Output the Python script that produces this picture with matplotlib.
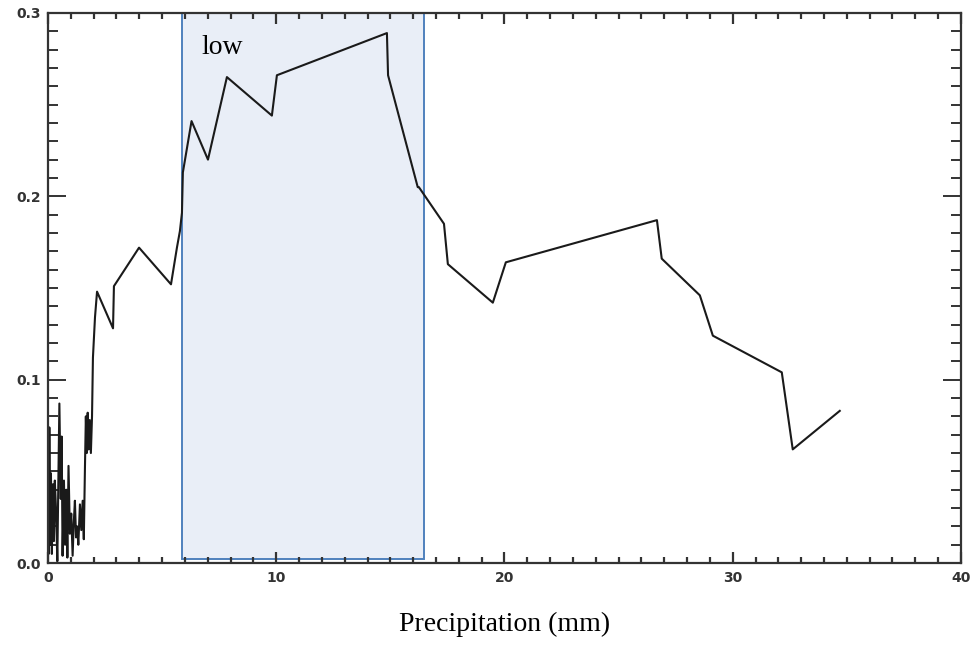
import matplotlib
matplotlib.use("Agg")
import matplotlib.pyplot as plt
from matplotlib.patches import Rectangle
from matplotlib.ticker import MultipleLocator

# Curve samples: precipitation (mm) and the corresponding value
precip_mm = [
    0.00, 0.03, 0.06, 0.10, 0.13, 0.17, 0.22, 0.26, 0.30, 0.35,
    0.41, 0.45, 0.50, 0.56, 0.60, 0.64, 0.70, 0.75, 0.80, 0.85,
    0.90, 0.96, 1.02, 1.08, 1.13, 1.18, 1.23, 1.28, 1.33, 1.40,
    1.46, 1.52, 1.57, 1.62, 1.66, 1.70, 1.74, 1.78, 1.83, 1.88,
    1.93, 1.97, 2.06, 2.15, 2.85, 2.89, 3.99, 5.39, 5.65, 5.78,
    5.87, 5.91, 6.29, 7.01, 7.84, 9.81, 10.03, 14.85, 14.90, 16.20,
    16.25, 17.35, 17.52, 19.49, 20.06, 26.68, 26.89, 28.56, 29.13, 32.15,
    32.63, 34.69,
]
value = [
    0.048, 0.005, 0.074, 0.010, 0.049, 0.005, 0.043, 0.012, 0.045, 0.030,
    0.001, 0.040, 0.087, 0.035, 0.069, 0.004, 0.045, 0.010, 0.040, 0.003,
    0.053, 0.016, 0.027, 0.004, 0.022, 0.034, 0.014, 0.020, 0.010, 0.032,
    0.018, 0.034, 0.013, 0.052, 0.080, 0.060, 0.082, 0.062, 0.078, 0.060,
    0.080, 0.112, 0.134, 0.148, 0.128, 0.151, 0.172, 0.152, 0.172, 0.181,
    0.191, 0.213, 0.241, 0.220, 0.265, 0.244, 0.266, 0.289, 0.266, 0.205,
    0.205, 0.185, 0.163, 0.142, 0.164, 0.187, 0.166, 0.146, 0.124, 0.104,
    0.062, 0.083,
]

# Highlighted "low" band
band_x = [5.89, 16.47]
band_y = [0.002, 0.3]
band_label = "low"

x_ticks = [0, 10, 20, 30, 40]
y_ticks = [0.0, 0.1, 0.2, 0.3]
y_tick_labels = ["0.0", "0.1", "0.2", "0.3"]

fig = plt.figure(figsize=(9.75, 6.45), dpi=100)
ax = fig.add_axes([0.0492, 0.127, 0.9364, 0.853])

ax.add_patch(Rectangle((band_x[0], band_y[0]), band_x[1] - band_x[0],
                       band_y[1] - band_y[0], facecolor="#e9eef7",
                       edgecolor="#4f81bd", linewidth=1.4, zorder=1))
ax.text(band_x[0] + 0.85, 0.281, band_label, family="Liberation Serif",
        fontsize=20, color="black", ha="left", va="center", zorder=3)

ax.plot(precip_mm, value, color="#1a1a1a", linewidth=1.5, zorder=2)

ax.set_xlim(0, 40)
ax.set_ylim(0, 0.3)
ax.set_xticks(x_ticks)
ax.set_yticks(y_ticks)
ax.set_yticklabels(y_tick_labels)
ax.xaxis.set_minor_locator(MultipleLocator(1))
ax.yaxis.set_minor_locator(MultipleLocator(0.01))

for s in ax.spines.values():
    s.set_color("#333333")
    s.set_linewidth(1.6)

ax.tick_params(axis="x", which="both", direction="in", top=True, bottom=True,
               color="#333333", width=1.6, labelsize=10, pad=6)
ax.tick_params(axis="x", which="major", length=8)
ax.tick_params(axis="x", which="minor", length=4)
ax.tick_params(axis="y", which="both", direction="in", left=True, right=True,
               color="#333333", width=1.4, labelsize=10, pad=5)
ax.tick_params(axis="y", which="major", length=13)
ax.tick_params(axis="y", which="minor", length=7)
for lab in ax.get_xticklabels() + ax.get_yticklabels():
    lab.set_fontweight("bold")
    lab.set_color("#333333")

ax.set_xlabel("Precipitation (mm)", family="Liberation Serif", fontsize=20,
              labelpad=19)

fig.savefig("out.png", dpi=100)
